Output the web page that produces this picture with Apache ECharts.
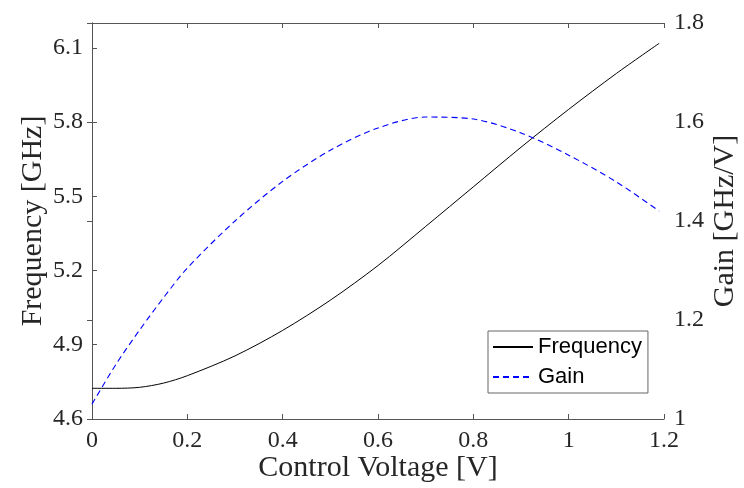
<!DOCTYPE html>
<html>
<head>
<meta charset="utf-8">
<script src="https://cdn.jsdelivr.net/npm/echarts@6/dist/echarts.min.js"></script>
<style>html,body{margin:0;padding:0;background:#fff}#c{width:744px;height:488px}</style>
</head>
<body>
<div id="c"></div>
<script>
var voltage = [0, 0.05, 0.1, 0.15, 0.2, 0.3, 0.4, 0.5, 0.6, 0.7, 0.8, 0.9, 1.0, 1.1, 1.19];
var frequency = [4.724, 4.724, 4.728, 4.745, 4.775, 4.855, 4.958, 5.08, 5.22, 5.378, 5.538, 5.698, 5.851, 5.996, 6.118];
var gain = [1.03, 1.11, 1.18, 1.245, 1.305, 1.40, 1.48, 1.543, 1.588, 1.61, 1.606, 1.578, 1.533, 1.479, 1.42];
var xTicks = [0, 0.2, 0.4, 0.6, 0.8, 1, 1.2];
var freqTicks = [4.6, 4.9, 5.2, 5.5, 5.8, 6.1];
var gainTicks = [1, 1.2, 1.4, 1.6, 1.8];

var axisColor = '#555555';
var serif = '"Liberation Serif", "DejaVu Serif", serif';
function pairs(xs, ys) { return xs.map(function (x, i) { return [x, ys[i]]; }); }

var chart = echarts.init(document.getElementById('c'), null, {renderer: 'canvas'});
chart.setOption({
  animation: false,
  backgroundColor: '#ffffff',
  grid: {left: 92, right: 80, top: 23, bottom: 69, containLabel: false, outerBoundsMode: 'none'},
  legend: {
    left: 488, top: 331, orient: 'vertical',
    backgroundColor: '#ffffff', borderColor: '#666666', borderWidth: 1, borderRadius: 0,
    padding: [3, 6, 3, 4], itemGap: 4, itemWidth: 40, itemHeight: 14,
    itemStyle: {opacity: 0},
    textStyle: {fontFamily: '"Liberation Sans", Arial, sans-serif', fontSize: 22, color: '#000', lineHeight: 26},
    data: ['Frequency', 'Gain']
  },
  xAxis: [{
    type: 'value', min: 0, max: 1.2, position: 'bottom',
    name: 'Control Voltage [V]', nameLocation: 'middle', nameGap: 34, nameMoveOverlap: false,
    nameTextStyle: {fontFamily: serif, fontSize: 30, color: '#262626'},
    axisLine: {show: true, lineStyle: {color: axisColor, width: 1}},
    axisTick: {show: true, inside: true, length: 5, customValues: xTicks, lineStyle: {color: axisColor}},
    axisLabel: {customValues: xTicks, margin: 10, fontFamily: serif, fontSize: 24, color: '#262626',
      formatter: function (v) { return String(v); }},
    splitLine: {show: false}
  }, {
    type: 'value', min: 0, max: 1.2, position: 'top',
    axisLine: {show: true, lineStyle: {color: axisColor, width: 1}},
    axisTick: {show: true, inside: true, length: 5, customValues: xTicks, lineStyle: {color: axisColor}},
    axisLabel: {show: false},
    splitLine: {show: false}
  }],
  yAxis: [{
    type: 'value', min: 4.6, max: 6.2, position: 'left',
    name: 'Frequency [GHz]', nameLocation: 'middle', nameGap: 44, nameMoveOverlap: false,
    nameTextStyle: {fontFamily: serif, fontSize: 30, color: '#262626'},
    axisLine: {show: true, lineStyle: {color: axisColor, width: 1}},
    axisTick: {show: true, inside: true, length: 5, customValues: freqTicks, lineStyle: {color: axisColor}},
    axisLabel: {customValues: freqTicks, margin: 9, fontFamily: serif, fontSize: 24, color: '#262626',
      formatter: function (v) { return v.toFixed(1); }},
    splitLine: {show: false}
  }, {
    type: 'value', min: 1, max: 1.8, interval: 0.2, position: 'right',
    name: 'Gain [GHz/V]', nameLocation: 'middle', nameGap: 46, nameRotate: 90, nameMoveOverlap: false,
    nameTextStyle: {fontFamily: serif, fontSize: 30, color: '#262626'},
    axisLine: {show: true, lineStyle: {color: axisColor, width: 1}},
    axisTick: {show: true, inside: true, length: 5, customValues: gainTicks, lineStyle: {color: axisColor}},
    axisLabel: {customValues: gainTicks, margin: 10, fontFamily: serif, fontSize: 24, color: '#262626',
      formatter: function (v) { return String(Math.round(v * 10) / 10); }},
    splitLine: {show: false}
  }],
  series: [{
    name: 'Frequency', type: 'line', xAxisIndex: 0, yAxisIndex: 0,
    data: pairs(voltage, frequency), smooth: 0.3, symbol: 'none',
    itemStyle: {color: '#000000'},
    lineStyle: {color: '#000000', width: 1}
  }, {
    name: 'Gain', type: 'line', xAxisIndex: 0, yAxisIndex: 1,
    data: pairs(voltage, gain), smooth: 0.3, symbol: 'none',
    itemStyle: {color: '#0000ff'},
    lineStyle: {color: '#0000ff', width: 1.1, type: [6, 4]}
  }]
});
</script>
</body>
</html>
